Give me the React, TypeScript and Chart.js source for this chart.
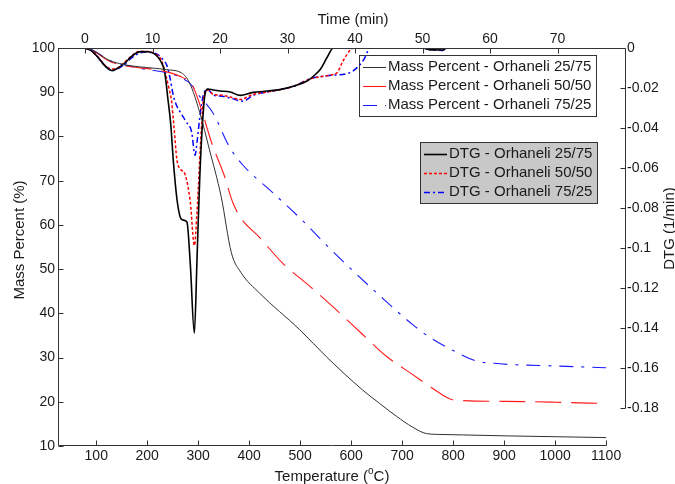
import React, { useEffect, useRef } from "react";
import { Chart, registerables } from "chart.js";

Chart.register(...registerables);

const FONT = '"Liberation Sans", Arial, Helvetica, sans-serif';
const TEXT = "#1a1a1a";
const AXIS = "#333333";

// ---- tick labels ----
const tempTicks = [100, 200, 300, 400, 500, 600, 700, 800, 900, 1000, 1100];
const timeTicks = [0, 10, 20, 30, 40, 50, 60, 70];
const massTicks = [10, 20, 30, 40, 50, 60, 70, 80, 90, 100];
const dtgTicks = [0, -0.02, -0.04, -0.06, -0.08, -0.1, -0.12, -0.14, -0.16, -0.18];

const seriesNames = ["Orhaneli 25/75", "Orhaneli 50/50", "Orhaneli 75/25"];

// ---- Mass percent (%) vs temperature (°C) ----
const temp2575 = [25, 77, 132, 238, 267, 283, 303, 322, 345, 365, 384, 420, 499, 553, 622, 656, 689, 720, 748, 780, 820, 900, 1000, 1100];
const mass2575 = [100, 100, 96.9, 95.1, 94.4, 92.1, 85.4, 77, 66.4, 53.7, 49.2, 44.6, 36.3, 30.0, 22.7, 19.6, 16.7, 14.3, 12.8, 12.6, 12.5, 12.3, 12.1, 11.9];

const temp5050 = [25, 77, 132, 238, 270, 286, 300, 328, 350, 368, 384, 420, 465, 520, 564, 620, 669, 720, 760, 787, 800, 900, 1000, 1100];
const mass5050 = [100, 100, 96.7, 94.6, 93.3, 92.1, 88.3, 78, 71.5, 65, 61.5, 57.2, 51.4, 46, 41.5, 35.5, 30.3, 26.2, 23, 21, 20.4, 20.1, 19.9, 19.6];

const temp7525 = [25, 77, 132, 169, 280, 289, 300, 329, 361, 387, 446, 500, 551, 600, 656, 720, 754, 800, 846, 880, 917, 1000, 1100];
const mass7525 = [100, 100, 96.9, 95.8, 92.4, 91.3, 89.5, 85.3, 77.7, 73.6, 67.3, 61.5, 55.5, 50, 44, 37.5, 34.6, 31.6, 29.2, 28.7, 28.4, 28.1, 27.7];

// ---- DTG (1/min) vs time (min) ----
const time2575 = [0, 1, 2, 3, 4, 4.9, 5.9, 6.9, 7.6, 8.4, 9.4, 10.4, 11.2, 11.8, 12.3, 12.7, 13.1, 13.6, 14.1, 14.5, 15.1, 15.6, 16.2, 16.6, 17.0, 17.4, 17.8, 18.2, 19, 20, 21.5, 23, 24.9, 27, 28.9, 31, 32.9, 34.2, 34.9, 35.9, 36.8, 50, 51, 53, 53.6, 80];
const dtg2575 = [0, -0.0015, -0.005, -0.0091, -0.0113, -0.010, -0.0075, -0.0042, -0.0025, -0.0018, -0.0019, -0.0032, -0.0065, -0.012, -0.026, -0.038, -0.057, -0.075, -0.0845, -0.086, -0.087, -0.108, -0.1426, -0.105, -0.065, -0.038, -0.0225, -0.0205, -0.021, -0.0215, -0.022, -0.0237, -0.0222, -0.0215, -0.0208, -0.019, -0.0165, -0.013, -0.0105, -0.0045, 0, 0, -0.0008, -0.001, 0, 0];

const time5050 = [0, 1, 2, 3, 4, 4.9, 5.9, 6.9, 7.6, 8.4, 9.4, 10.4, 11.3, 12.0, 12.5, 12.8, 13.2, 13.6, 14.1, 14.8, 15.6, 16.2, 16.6, 17.1, 17.5, 17.8, 18.3, 19, 20, 21.5, 23, 24.9, 27, 28.9, 31, 33.4, 36.4, 37.3, 38.3, 39.3, 39.8, 80];
const dtg5050 = [0, -0.0015, -0.0048, -0.0088, -0.0105, -0.0098, -0.007, -0.004, -0.0022, -0.0017, -0.0018, -0.003, -0.006, -0.014, -0.021, -0.026, -0.04, -0.0555, -0.0605, -0.063, -0.077, -0.0987, -0.082, -0.049, -0.0272, -0.0222, -0.021, -0.0233, -0.0235, -0.0245, -0.0257, -0.0232, -0.022, -0.0208, -0.019, -0.0155, -0.0135, -0.0125, -0.006, -0.001, 0, 0];

const time7525 = [0, 1, 2, 3, 4, 4.9, 5.9, 6.9, 7.9, 8.9, 9.9, 10.9, 11.6, 12.1, 12.6, 13.1, 13.6, 14.1, 15.0, 15.8, 16.3, 16.6, 17.1, 17.5, 18.1, 19, 20, 21.5, 23.4, 24.9, 27, 28.9, 31, 33.4, 36, 39.3, 40.3, 41.3, 42, 42.3, 50, 51, 53, 53.6, 80];
const dtg7525 = [0, -0.0015, -0.005, -0.009, -0.0113, -0.0103, -0.008, -0.005, -0.0028, -0.002, -0.0023, -0.0035, -0.006, -0.0085, -0.015, -0.024, -0.029, -0.032, -0.037, -0.042, -0.0536, -0.047, -0.032, -0.024, -0.0205, -0.0235, -0.024, -0.025, -0.0266, -0.0237, -0.022, -0.0207, -0.019, -0.0153, -0.0138, -0.0123, -0.0098, -0.0058, -0.001, 0, 0, -0.0008, -0.0012, 0, 0];

const pts = (xs: number[], ys: number[]) => xs.map((x, i) => ({ x, y: ys[i] }));

const fmt = (v: number) => String(Number(Number(v).toFixed(2)));

function drawLegend(ctx: CanvasRenderingContext2D, chart: any, bx: number, by: number, bw: number, bh: number, bg: string, idxs: number[]) {
  ctx.save();
  ctx.fillStyle = bg;
  ctx.fillRect(bx, by, bw, bh);
  ctx.strokeStyle = AXIS;
  ctx.lineWidth = 1;
  ctx.setLineDash([]);
  ctx.strokeRect(bx + 0.5, by + 0.5, bw, bh);
  ctx.font = `15px ${FONT}`;
  ctx.textAlign = "left";
  ctx.textBaseline = "middle";
  idxs.forEach((di, r) => {
    const ds = chart.data.datasets[di];
    const y = by + 12 + r * 19;
    ctx.save();
    ctx.strokeStyle = ds.borderColor;
    ctx.lineWidth = ds.borderWidth;
    ctx.setLineDash(ds.borderDash || []);
    ctx.beginPath();
    ctx.moveTo(bx + 4, y + 0.5);
    ctx.lineTo(bx + 27, y + 0.5);
    ctx.stroke();
    ctx.restore();
    ctx.fillStyle = TEXT;
    ctx.fillText(ds.label, bx + 29, y);
  });
  ctx.restore();
}

const decorPlugin = {
  id: "decor",
  beforeDatasetsDraw(chart: any) {
    // the mass-percent legend sits beneath the DTG curves
    drawLegend(chart.ctx, chart, 359, 55, 237, 61, "#ffffff", [0, 1, 2]);
  },
  afterDatasetsDraw(chart: any) {
    const { ctx, chartArea: ca, scales } = chart;
    const sx = scales.x, sx2 = scales.x2, sy = scales.y, sy2 = scales.y2;
    ctx.save();
    ctx.strokeStyle = AXIS;
    ctx.lineWidth = 1;
    ctx.setLineDash([]);
    const L = Math.round(ca.left) + 0.5;
    const R = Math.round(ca.right) + 0.5;
    const yTop = Math.round(sy.getPixelForValue(100)) + 0.5;
    const yBot = Math.round(sy.getPixelForValue(10)) - 0.5;
    const xEnd = Math.round(sx.getPixelForValue(1100)) + 0.5;
    const y2Top = Math.round(sy2.getPixelForValue(0)) + 0.5;
    const y2Bot = Math.round(sy2.getPixelForValue(-0.18)) + 0.5;
    ctx.beginPath();
    ctx.moveTo(L, yTop); ctx.lineTo(L, yBot);
    ctx.moveTo(L, yBot); ctx.lineTo(xEnd, yBot);
    ctx.moveTo(L, y2Top); ctx.lineTo(R, y2Top);
    ctx.moveTo(R, y2Top); ctx.lineTo(R, y2Bot);
    massTicks.forEach((v) => { const y = Math.round(sy.getPixelForValue(v)) + 0.5; ctx.moveTo(L, y); ctx.lineTo(L + 5, y); });
    tempTicks.forEach((v) => { const x = Math.round(sx.getPixelForValue(v)) + 0.5; ctx.moveTo(x, yBot); ctx.lineTo(x, yBot - 5); });
    timeTicks.forEach((v) => { const x = Math.round(sx2.getPixelForValue(v)) + 0.5; ctx.moveTo(x, y2Top); ctx.lineTo(x, y2Top + 5); });
    dtgTicks.forEach((v) => { const y = Math.round(sy2.getPixelForValue(v)) + 0.5; ctx.moveTo(R, y); ctx.lineTo(R - 5, y); });
    ctx.stroke();

    // axis titles
    ctx.fillStyle = TEXT;
    ctx.font = `15px ${FONT}`;
    ctx.textBaseline = "alphabetic";
    ctx.textAlign = "center";
    ctx.fillText("Time (min)", 353, 24);

    const t1 = "Temperature (";
    const t3 = "C)";
    const w1 = ctx.measureText(t1).width;
    const w3 = ctx.measureText(t3).width;
    ctx.font = `10px ${FONT}`;
    const w2 = ctx.measureText("o").width;
    const total = w1 + w2 + w3;
    const x0 = 332 - total / 2;
    ctx.textAlign = "left";
    ctx.font = `15px ${FONT}`;
    ctx.fillText(t1, x0, 481);
    ctx.font = `10px ${FONT}`;
    ctx.fillText("o", x0 + w1, 474);
    ctx.font = `15px ${FONT}`;
    ctx.fillText(t3, x0 + w1 + w2, 481);

    ctx.textAlign = "center";
    ctx.save();
    ctx.translate(24, 240);
    ctx.rotate(-Math.PI / 2);
    ctx.fillText("Mass Percent (%)", 0, 0);
    ctx.restore();
    ctx.save();
    ctx.translate(674, 228.5);
    ctx.rotate(-Math.PI / 2);
    ctx.fillText("DTG (1/min)", 0, 0);
    ctx.restore();

    // DTG legend on top
    drawLegend(ctx, chart, 420, 142, 177, 61, "#c8c8c8", [3, 4, 5]);
    ctx.restore();
  },
};

export default function App() {
  const ref = useRef<HTMLCanvasElement | null>(null);

  useEffect(() => {
    if (!ref.current) return;
    const tickFont = { family: FONT, size: 14 };
    const common = {
      type: "linear" as const,
      grid: { display: false, drawTicks: false },
      border: { display: false },
    };
    const line = (label: string, data: any, xAxisID: string, yAxisID: string, color: string, width: number, dash: number[]) => ({
      label,
      data,
      xAxisID,
      yAxisID,
      borderColor: color,
      backgroundColor: color,
      borderWidth: width,
      borderDash: dash,
      pointRadius: 0,
      fill: false,
      cubicInterpolationMode: "monotone" as const,
    });
    const chart = new Chart(ref.current, {
      type: "line",
      data: {
        datasets: [
          line("Mass Percent - " + seriesNames[0], pts(temp2575, mass2575), "x", "y", "#303030", 1, []),
          line("Mass Percent - " + seriesNames[1], pts(temp5050, mass5050), "x", "y", "#ff1a1a", 1.1, [26, 10]),
          line("Mass Percent - " + seriesNames[2], pts(temp7525, mass7525), "x", "y", "#1a1aff", 1.1, [14, 8, 3, 8]),
          line("DTG - " + seriesNames[0], pts(time2575, dtg2575), "x2", "y2", "#000000", 1.6, []),
          line("DTG - " + seriesNames[1], pts(time5050, dtg5050), "x2", "y2", "#ff0000", 1.5, [3, 2]),
          line("DTG - " + seriesNames[2], pts(time7525, dtg7525), "x2", "y2", "#0000ff", 1.5, [6, 3, 2, 3]),
        ],
      },
      options: {
        animation: false,
        responsive: false,
        devicePixelRatio: 1,
        layout: { padding: 0 },
        plugins: { legend: { display: false }, tooltip: { enabled: false } },
        scales: {
          x: {
            ...common,
            position: "bottom",
            min: 25,
            max: 1137,
            afterBuildTicks: (s: any) => { s.ticks = tempTicks.map((v) => ({ value: v })); },
            afterFit: (s: any) => { s.height = 38; },
            ticks: { font: tickFont, color: TEXT, padding: 2, maxRotation: 0, autoSkip: false, callback: (v: any) => String(v) },
          },
          x2: {
            ...common,
            position: "top",
            min: -4,
            max: 80,
            afterBuildTicks: (s: any) => { s.ticks = timeTicks.map((v) => ({ value: v })); },
            afterFit: (s: any) => { s.height = 48; },
            ticks: { font: tickFont, color: TEXT, padding: 0, maxRotation: 0, autoSkip: false, callback: (v: any) => String(v) },
          },
          y: {
            ...common,
            position: "left",
            min: 10,
            max: 100,
            afterBuildTicks: (s: any) => { s.ticks = massTicks.map((v) => ({ value: v })); },
            afterFit: (s: any) => { s.width = 58; },
            ticks: { font: tickFont, color: TEXT, padding: 3, autoSkip: false, callback: (v: any) => String(v) },
          },
          y2: {
            ...common,
            position: "right",
            min: -0.199,
            max: 0,
            afterBuildTicks: (s: any) => { s.ticks = dtgTicks.map((v) => ({ value: v })); },
            afterFit: (s: any) => { s.width = 50; },
            ticks: { font: tickFont, color: TEXT, padding: 2, autoSkip: false, callback: (v: any) => fmt(v) },
          },
        },
      } as any,
      plugins: [decorPlugin],
    });
    return () => chart.destroy();
  }, []);

  return (
    <div style={{ position: "absolute", left: 0, top: 0, width: 675, height: 484, background: "#ffffff" }}>
      <canvas ref={ref} width={675} height={484} style={{ display: "block" }} />
    </div>
  );
}
